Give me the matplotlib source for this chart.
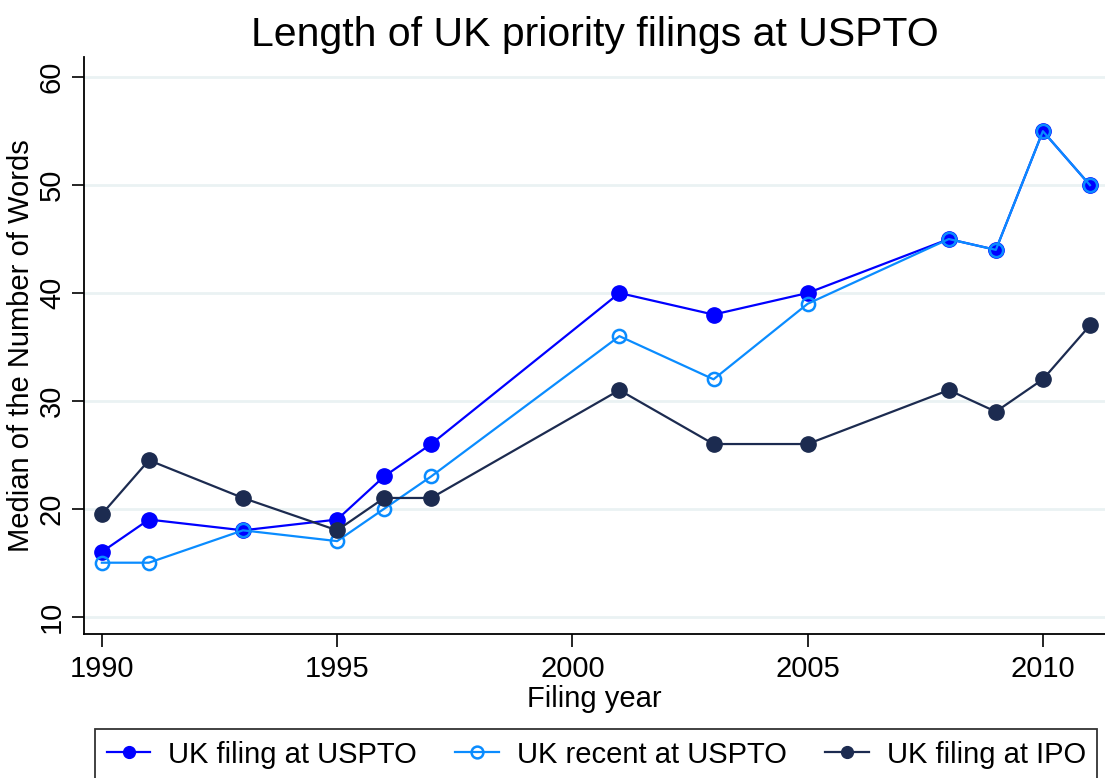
import matplotlib
matplotlib.use("Agg")
import matplotlib.pyplot as plt

plt.rcParams['font.family'] = ['Liberation Sans', 'DejaVu Sans']

years = [1990, 1991, 1993, 1995, 1996, 1997, 2001, 2003, 2005, 2008, 2009, 2010, 2011]
uk_filing_uspto = [16, 19, 18, 19, 23, 26, 40, 38, 40, 45, 44, 55, 50]
uk_recent_uspto = [15, 15, 18, 17, 20, 23, 36, 32, 39, 45, 44, 55, 50]
uk_filing_ipo = [19.5, 24.5, 21, 18, 21, 21, 31, 26, 26, 31, 29, 32, 37]

x_ticks = [1990, 1995, 2000, 2005, 2010]
y_ticks = [10, 20, 30, 40, 50, 60]

c_filing = "#0000FF"
c_recent = "#0A8CFF"
c_ipo = "#1C2B50"

fig = plt.figure(figsize=(11.05, 7.78), dpi=100)
ax = fig.add_axes([0.076, 0.1855, 0.924, 0.741])

ax.plot(years, uk_filing_uspto, color=c_filing, lw=1.6, marker="o", ms=11,
        label="UK filing at USPTO", zorder=3)
ax.plot(years, uk_recent_uspto, color=c_recent, lw=1.6, marker="o", ms=9.5,
        mfc="none", mew=1.8, label="UK recent at USPTO", zorder=4)
ax.plot(years, uk_filing_ipo, color=c_ipo, lw=1.6, marker="o", ms=11,
        label="UK filing at IPO", zorder=5)

ax.set_xlim(1989.62, 2011.32)
ax.set_ylim(8.42, 61.86)
ax.set_xticks(x_ticks)
ax.set_yticks(y_ticks)
ax.set_yticklabels([str(v) for v in y_ticks], rotation=90, va="center")
ax.tick_params(axis="both", labelsize=21, length=9, width=1.2, color="black")
ax.tick_params(axis="y", pad=4)
ax.tick_params(axis="x", pad=6)

ax.grid(axis="y", color="#EAF2F3", lw=2)
ax.set_axisbelow(True)
for s in ["top", "right"]:
    ax.spines[s].set_visible(False)
for s in ["left", "bottom"]:
    ax.spines[s].set_linewidth(1.3)

ax.set_xlabel("Filing year", fontsize=21, labelpad=2)
ax.set_ylabel("Median of the Number of Words", fontsize=21, labelpad=2)
ax.set_title("Length of UK priority filings at USPTO", fontsize=29.5, pad=8)

leg = ax.legend(loc="upper left", bbox_to_anchor=(95 / 1105, 49 / 778),
                bbox_transform=fig.transFigure, ncol=3, fontsize=21,
                frameon=True, fancybox=False, edgecolor="black",
                handlelength=1.5, handletextpad=0.6, columnspacing=1.33,
                borderpad=0.4, borderaxespad=0)
leg.get_frame().set_linewidth(1.3)
for h in leg.legend_handles:
    h.set_markersize(8.5)

fig.savefig("out.png", dpi=100)
